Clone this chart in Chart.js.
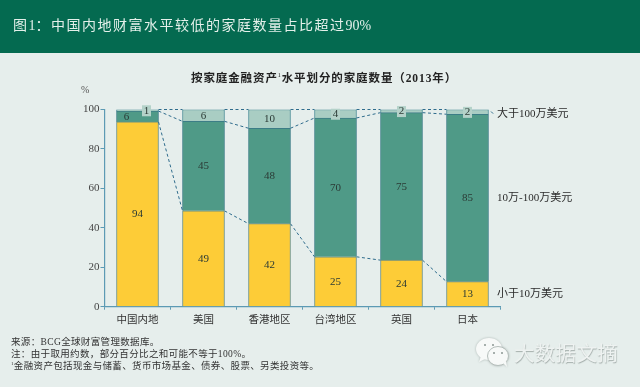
<!DOCTYPE html>
<html lang="zh">
<head>
<meta charset="UTF-8">
<title>图1</title>
<style>
  html, body { margin: 0; padding: 0; }
  body { width: 640px; height: 387px; overflow: hidden; position: relative; background: #e6eeec; font-family: "Liberation Serif", "Noto Sans CJK SC", serif; }
  canvas { position: absolute; left: 0; top: 0; }
  .band { position: absolute; left: 0; top: 0; width: 640px; height: 53px; background: #046a50; }
  .head { position: absolute; left: 13px; top: 15px; font-size: 14px; line-height: 22px; letter-spacing: 1.5px; color: #e4f0ea; white-space: nowrap; }
  .head span { letter-spacing: 0; }
  .title { position: absolute; left: 191px; top: 70px; font-size: 11.5px; line-height: 16px; font-weight: bold; letter-spacing: 0.9px; color: #222; white-space: nowrap; }
  .title sup { font-size: 6px; line-height: 0; font-weight: normal; }
  .unit { position: absolute; left: 81px; top: 84px; font-size: 10px; line-height: 12px; color: #555; }
  .notes { position: absolute; left: 11px; top: 336px; font-size: 9.5px; line-height: 12px; letter-spacing: 0.35px; color: #333; white-space: nowrap; }
  .notes sup { font-size: 5px; line-height: 0; }
  .mark { position: absolute; left: 514px; top: 337px; font-size: 20.5px; line-height: 30px; color: #eef2f1; font-family: "Noto Sans CJK SC", sans-serif; letter-spacing: 0.3px; white-space: nowrap; text-shadow: 0.5px 0.5px 1px #a3adaa; }
  .icon { position: absolute; left: 476px; top: 338px; filter: drop-shadow(0 0 1px #aab4b1); }
</style>
</head>
<body>
<div class="band"></div>
<canvas id="chart" width="640" height="387"></canvas>
<div class="head">图<span>1</span>：中国内地财富水平较低的家庭数量占比超过<span>90%</span></div>
<div class="title">按家庭金融资产<sup>1</sup>水平划分的家庭数量（2013年）</div>
<div class="unit">%</div>
<div class="notes">来源：BCG全球财富管理数据库。<br>注：由于取用约数，部分百分比之和可能不等于100%。<br><sup>1</sup>金融资产包括现金与储蓄、货币市场基金、债券、股票、另类投资等。</div>
<svg class="icon" width="36" height="30" viewBox="0 0 36 30">
  <ellipse cx="13" cy="11" rx="13" ry="11" fill="#f7f9f8"/>
  <path d="M5 18 L3 24 L11 20 Z" fill="#f7f9f8"/>
  <circle cx="9" cy="7" r="1" fill="#8b9693"/><circle cx="17" cy="7" r="1" fill="#8b9693"/>
  <ellipse cx="22" cy="18" rx="10.5" ry="9.5" fill="#f7f9f8" stroke="#b4bdba" stroke-width="1"/>
  <path d="M27 25 L31 29 L30 23 Z" fill="#f7f9f8"/>
  <circle cx="18" cy="15" r="1" fill="#8b9693"/><circle cx="26" cy="15" r="1" fill="#8b9693"/>
</svg>
<div class="mark">大数据文摘</div>

<script src="https://cdn.jsdelivr.net/npm/chart.js@4"></script>
<script>
  const regions = ['中国内地', '美国', '香港地区', '台湾地区', '英国', '日本'];
  const yTicks = [0, 20, 40, 60, 80, 100];
  // bar heights, they round to the printed labels
  const under10 = [93.7, 48.6, 42.1, 25.3, 23.6, 12.7];
  const from10to100 = [5.5, 45.4, 48.4, 70.4, 74.8, 84.9];
  const over100 = [0.8, 6, 9.5, 4.3, 1.6, 2.4];
  const seriesNames = ['小于10万美元', '10万-100万美元', '大于100万美元'];

  const serif = '"Liberation Serif", "Noto Sans CJK SC", serif';

  // dashed lines between neighbouring bars
  const connectors = {
    id: 'connectors',
    afterDatasetsDraw(chart) {
      const ctx = chart.ctx, y = chart.scales.y;
      const bars = chart.getDatasetMeta(0).data;
      ctx.save();
      ctx.strokeStyle = '#2f6c8c';
      ctx.lineWidth = 1;
      ctx.setLineDash([3, 2.5]);
      for (let i = 0; i < bars.length - 1; i++) {
        let a = 0, b = 0;
        [under10, from10to100, over100].forEach(s => {
          a += s[i];
          b += s[i + 1];
          ctx.beginPath();
          ctx.moveTo(bars[i].x + 21, y.getPixelForValue(a));
          ctx.lineTo(bars[i + 1].x - 21, y.getPixelForValue(b));
          ctx.stroke();
        });
      }
      // little leader towards the top series name
      ctx.beginPath();
      ctx.moveTo(491, 111.5);
      ctx.lineTo(494, 114.5);
      ctx.stroke();
      ctx.restore();
    }
  };

  // numbers inside the bars and series names right of the last bar
  const barLabels = {
    id: 'barLabels',
    afterDatasetsDraw(chart) {
      const ctx = chart.ctx;
      ctx.save();
      ctx.textAlign = 'center';
      ctx.textBaseline = 'middle';
      chart.data.datasets.forEach((ds, d) => {
        const meta = chart.getDatasetMeta(d);
        ds.data.forEach((v, i) => {
          const bar = meta.data[i];
          const text = String(Math.round(v));
          let x = bar.x, y = (bar.y + bar.base) / 2 + 0.5;
          if (i === 0 && d === 1) { x -= 11; y += 0.5; }
          if (i === 0 && d === 2) x += 9;
          if (d === 2 && v < 5) {
            ctx.fillStyle = '#b4d2c9';
            ctx.fillRect(x - 4.5, y - 5.5, 9, 11);
          }
          ctx.fillStyle = '#2b3a35';
          ctx.font = '11px ' + serif;
          ctx.fillText(text, x, y);
        });
        const last = meta.data[meta.data.length - 1];
        ctx.textAlign = 'left';
        ctx.fillStyle = '#2b2b2b';
        ctx.font = '11px ' + serif;
        ctx.fillText(seriesNames[d], 497, (last.y + last.base) / 2 + (d === 2 ? 2.5 : 0));
        ctx.textAlign = 'center';
      });
      ctx.restore();
    }
  };

  function band(label, data, fill, edge) {
    return { label, data, backgroundColor: fill, borderColor: edge, borderWidth: 1, barThickness: 42 };
  }

  new Chart(document.getElementById('chart'), {
    type: 'bar',
    data: {
      labels: regions,
      datasets: [
        band(seriesNames[0], under10, '#fdcc37', '#6f9080'),
        band(seriesNames[1], from10to100, '#4f9a87', '#3c7d86'),
        band(seriesNames[2], over100, '#a9cdc3', '#4f8f98')
      ]
    },
    plugins: [connectors, barLabels],
    options: {
      responsive: false,
      animation: false,
      layout: { padding: { left: 70.5, right: 139.5, top: 109.5, bottom: 50.3 } },
      plugins: { legend: { display: false }, tooltip: { enabled: false } },
      scales: {
        x: {
          stacked: true,
          afterFit(scale) { scale.height = 30; },
          border: { color: '#5c9ab4', width: 1.2 },
          grid: { drawOnChartArea: false, color: '#5c9ab4', tickLength: 3 },
          ticks: { color: '#333', font: { size: 10.5, family: serif }, padding: 4, maxRotation: 0 }
        },
        y: {
          stacked: true,
          min: 0,
          max: 100,
          afterFit(scale) { scale.width = 34; },
          afterBuildTicks(scale) { scale.ticks = yTicks.map(value => ({ value })); },
          border: { color: '#5c9ab4', width: 1.2 },
          grid: { drawOnChartArea: false, color: '#5c9ab4', tickLength: 4 },
          ticks: { color: '#444', font: { size: 11, family: serif }, padding: 1 }
        }
      }
    }
  });
</script>
</body>
</html>
